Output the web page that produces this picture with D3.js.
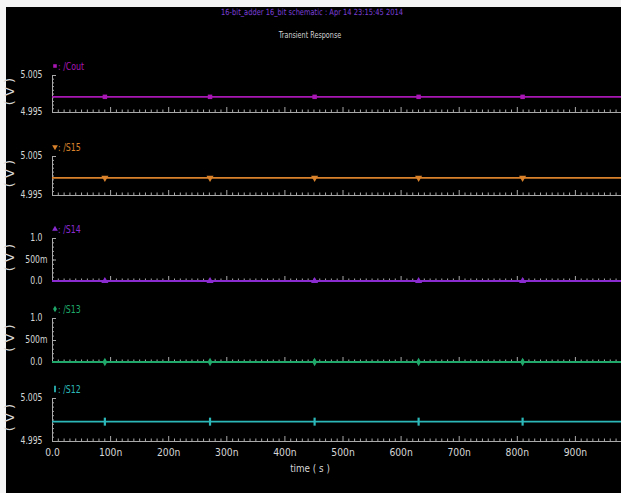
<!DOCTYPE html>
<html><head><meta charset="utf-8">
<script src="https://cdn.jsdelivr.net/npm/d3@7"></script>
<style>
html,body{margin:0;padding:0;background:#fff;}
svg{display:block;}
text{font-family:'DejaVu Sans',sans-serif;}
</style></head><body>
<svg id="chart" width="621" height="493"></svg>
<script>
// ---------- data ----------
const titleText = "16-bit_adder 16_bit schematic : Apr 14 23:15:45 2014";
const subtitleText = "Transient Response";
const xAxisTitle = "time ( s )";
const yAxisTitle = "( V )";
const signalNames = ["/Cout", "/S15", "/S14", "/S13", "/S12"];
const timeNs      = [0, 91, 272, 452, 631, 810, 1000];
const coutValues  = [4.9991, 4.9991, 4.9991, 4.9991, 4.9991, 4.9991, 4.9991];
const s15Values   = [4.9994, 4.9994, 4.9994, 4.9994, 4.9994, 4.9994, 4.9994];
const s14Values   = [0, 0, 0, 0, 0, 0, 0];
const s13Values   = [0, 0, 0, 0, 0, 0, 0];
const s12Values   = [4.9995, 4.9995, 4.9995, 4.9995, 4.9995, 4.9995, 4.9995];
const markerTimesNs = [91, 272, 452, 631, 810];
const xTickValuesNs = [0, 100, 200, 300, 400, 500, 600, 700, 800, 900];
const xTickLabels   = ["0.0", "100n", "200n", "300n", "400n", "500n", "600n", "700n", "800n", "900n"];
const voltDomainHigh     = [4.995, 5.005];
const voltTicksHigh      = [4.995, 5.005];
const voltTickLabelsHigh = ["4.995", "5.005"];
const voltDomainLow      = [0, 1.0];
const voltTicksLow       = [0, 0.5, 1.0];
const voltTickLabelsLow  = ["0.0", "500m", "1.0"];

// ---------- layout / style ----------
const seriesValues = [coutValues, s15Values, s14Values, s13Values, s12Values];
const colors = ["#a817b3", "#d9822b", "#8a2bd0", "#1fa86a", "#2cb8b8"];
const symbols = ["square", "down", "up", "diamond", "bar"];
const useLow = [false, false, true, true, false];
const panelTop = [75, 156, 238, 318, 398];
const panelBottom = [112, 195, 281, 362, 441];
const x0 = 52, W = 621, H = 493;
const axisColor = "#a9a9a9", textColor = "#d6d6d6";

const svg = d3.select("#chart");
svg.append("rect").attr("width", W).attr("height", H).attr("fill", "#f4f4f4");
svg.append("rect").attr("x", 6).attr("y", 7).attr("width", W - 6).attr("height", H - 7).attr("fill", "#000");

const x = d3.scaleLinear().domain([0, 1000]).range([x0, x0 + 581]);

function narrowText(parent, tx, ty, sx, size, anchor, fill, str) {
  return parent.append("text")
    .attr("transform", `translate(${tx},${ty}) scale(${sx},1)`)
    .attr("text-anchor", anchor).attr("font-size", size).attr("fill", fill)
    .attr("xml:space", "preserve").text(str);
}

narrowText(svg, 312, 15, 0.79, 8.5, "middle", "#7b3fd6", titleText);
narrowText(svg, 310, 38, 0.68, 9.5, "middle", textColor, subtitleText);

function markerPath(kind) {
  if (kind === "square") return d3.symbol(d3.symbolSquare, 20)();
  if (kind === "diamond") return d3.symbol(d3.symbolDiamond, 20)();
  if (kind === "up" || kind === "down") return d3.symbol(d3.symbolTriangle, 22)();
  return "M-1.1,-4h2.2v8h-2.2z";
}

const minorX = d3.range(0, 1000, 10).filter(v => v % 100 !== 0);

signalNames.forEach((name, i) => {
  const low = useLow[i];
  const y = d3.scaleLinear().domain(low ? voltDomainLow : voltDomainHigh)
    .range([panelBottom[i], panelTop[i]]);
  const g = svg.append("g");
  const isLast = i === signalNames.length - 1;

  // x axis major
  const xa = g.append("g").attr("transform", `translate(0,${panelBottom[i]})`)
    .call(d3.axisBottom(x).tickValues(xTickValuesNs).tickSize(-5).tickPadding(8)
      .tickFormat((d, k) => isLast ? xTickLabels[k] : ""));
  xa.select(".domain").attr("d", `M${x0},0.5H${W}`).attr("stroke", axisColor);
  xa.selectAll("line").attr("stroke", axisColor);
  xa.selectAll("text").attr("fill", textColor).attr("font-size", 10.5)
    .attr("transform", "scale(0.88,1)");
  // x axis minor
  const xm = g.append("g").attr("transform", `translate(0,${panelBottom[i]})`)
    .call(d3.axisBottom(x).tickValues(minorX).tickSize(-2.5).tickFormat(""));
  xm.select(".domain").remove();
  xm.selectAll("line").attr("stroke", axisColor);

  // y axis major
  const ticks = low ? voltTicksLow : voltTicksHigh;
  const labels = low ? voltTickLabelsLow : voltTickLabelsHigh;
  const sxY = 0.7;
  const ya = g.append("g").attr("transform", `translate(${x0},0)`)
    .call(d3.axisLeft(y).tickValues(ticks).tickSize(-4).tickPadding(9)
      .tickFormat((d, k) => labels[k]));
  ya.select(".domain").attr("d", `M0.5,${panelTop[i]}V${panelBottom[i]}`).attr("stroke", axisColor);
  ya.selectAll("line").attr("stroke", axisColor);
  ya.selectAll("text").attr("fill", textColor).attr("font-size", 11)
    .attr("transform", `scale(${sxY},1)`)
    .attr("x", (d, k) => (/m$/.test(labels[k]) ? -4.5 : -9.5) / sxY)
    .attr("dy", "0.25em");
  // y axis minor
  const dom = y.domain();
  const minorY = d3.range(0, 11).map(k => dom[0] + (dom[1] - dom[0]) * k / 10);
  const ym = g.append("g").attr("transform", `translate(${x0},0)`)
    .call(d3.axisLeft(y).tickValues(minorY).tickSize(-2).tickFormat(""));
  ym.select(".domain").remove();
  ym.selectAll("line").attr("stroke", axisColor);

  // y title
  const midY = (panelTop[i] + panelBottom[i]) / 2 - 2;
  g.append("text").attr("transform", `translate(14,${midY}) rotate(-90)`)
    .attr("text-anchor", "middle").attr("font-size", 13).attr("fill", textColor)
    .attr("xml:space", "preserve").text(yAxisTitle);

  // series line
  const vals = seriesValues[i];
  const pts = timeNs.map((t, k) => [t, vals[k]]);
  g.append("path").datum(pts)
    .attr("d", d3.line().x(d => x(d[0])).y(d => y(d[1])))
    .attr("fill", "none").attr("stroke", colors[i]).attr("stroke-width", 1.8);

  // markers
  const vAt = t => vals[timeNs.indexOf(t)];
  g.selectAll(".mk").data(markerTimesNs).enter().append("path")
    .attr("d", markerPath(symbols[i]))
    .attr("transform", t => `translate(${x(t)},${y(vAt(t))})${symbols[i] === "down" ? " rotate(180)" : ""}`)
    .attr("fill", colors[i]);

  // legend label
  const ly = panelTop[i] - 9;
  g.append("path").attr("d", markerPath(symbols[i]))
    .attr("transform", `translate(55,${ly})${symbols[i] === "down" ? " rotate(180)" : ""} scale(0.8)`)
    .attr("fill", colors[i]);
  narrowText(g, 58, ly + 4, 0.75, 10.5, "start", colors[i], ": " + name);
});

narrowText(svg, 310, 472, 0.8, 11, "middle", textColor, xAxisTitle);
</script>
</body></html>
